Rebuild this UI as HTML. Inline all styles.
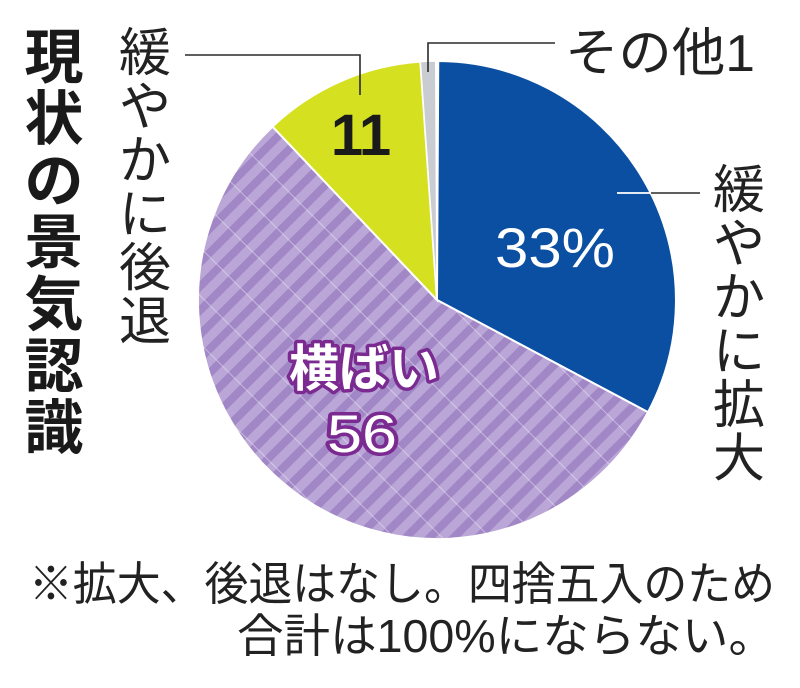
<!DOCTYPE html>
<html>
<head>
<meta charset="utf-8">
<style>
  html,body{margin:0;padding:0;background:#fff;}
  svg{display:block;}
  .jp{font-family:"Liberation Sans","Noto Sans CJK JP",sans-serif;}
</style>
</head>
<body>
<svg width="800" height="688" viewBox="0 0 800 688" xmlns="http://www.w3.org/2000/svg">
  <defs>
    <pattern id="st" patternUnits="userSpaceOnUse" width="17" height="17" patternTransform="rotate(45)">
      <rect width="17" height="17" fill="#baa6d7"/>
      <rect width="8" height="17" fill="#a287c6"/>
    </pattern>
    <pattern id="gr" patternUnits="userSpaceOnUse" width="34" height="34" patternTransform="rotate(-45)">
      <rect x="0" y="0" width="1" height="34" fill="#ffffff" fill-opacity="0.4"/>
    </pattern>
  </defs>
  <rect width="800" height="688" fill="#fff"/>

  <!-- Pie -->
  <path d="M437,300 L438.25,61 A239,239 0 0 1 648,412.2 Z" fill="#0b4fa2" stroke="#fff" stroke-width="2"/>
  <path d="M437,300 L648,412.2 A239,239 0 1 1 272.5,126.6 Z" fill="url(#st)" stroke="#fff" stroke-width="2"/>
  <path d="M437,300 L648,412.2 A239,239 0 1 1 272.5,126.6 Z" fill="url(#gr)"/>
  <path d="M437,300 L272.5,126.6 A239,239 0 0 1 420.3,61.6 Z" fill="#d5e020" stroke="#fff" stroke-width="2"/>
  <path d="M437,300 L420.3,61.6 A239,239 0 0 1 435.75,61 Z" fill="#c9ccd0" stroke="#fff" stroke-width="1.5"/>

  <!-- Leader lines -->
  <polyline points="185,55 360,55 360,95" fill="none" stroke="#2a2a2a" stroke-width="1.6"/>
  <polyline points="555,43 428,43 428,72" fill="none" stroke="#2a2a2a" stroke-width="1.6"/>
  <line x1="617" y1="193" x2="651" y2="193" stroke="#fff" stroke-width="1.8"/>
  <line x1="651" y1="193" x2="700" y2="193" stroke="#2a2a2a" stroke-width="1.6"/>

  <!-- Title (vertical, bold) -->
  <g class="jp" font-size="59" font-weight="700" fill="#1a1a1a" text-anchor="middle">
    <text x="54" y="77.8">現</text>
    <text x="54" y="139.6">状</text>
    <text x="54" y="201.4">の</text>
    <text x="54" y="263.2">景</text>
    <text x="54" y="325">気</text>
    <text x="54" y="386.8">認</text>
    <text x="54" y="448.6">識</text>
  </g>

  <!-- Left label -->
  <g class="jp" font-size="52" fill="#222" text-anchor="middle">
    <text x="145" y="71.2">緩</text>
    <text x="145" y="124.9">や</text>
    <text x="145" y="178.6">か</text>
    <text x="145" y="232.3">に</text>
    <text x="145" y="286">後</text>
    <text x="145" y="339.7">退</text>
  </g>

  <!-- Right label -->
  <g class="jp" font-size="52" fill="#222" text-anchor="middle">
    <text x="739" y="208.2">緩</text>
    <text x="739" y="261.9">や</text>
    <text x="739" y="315.6">か</text>
    <text x="739" y="369.3">に</text>
    <text x="739" y="423">拡</text>
    <text x="739" y="476.7">大</text>
  </g>

  <!-- Top label -->
  <text class="jp" x="565" y="71" font-size="52" fill="#222" textLength="190" lengthAdjust="spacingAndGlyphs">その他1</text>

  <!-- Values -->
  <text x="495" y="267" font-family="Liberation Sans, sans-serif" font-size="56" fill="#fff" textLength="120" lengthAdjust="spacingAndGlyphs">33%</text>
  <g font-family="Liberation Sans, sans-serif" font-size="58" font-weight="700" fill="#1a1a1a" text-anchor="middle">
    <text x="347" y="155">1</text>
    <text x="375" y="155">1</text>
  </g>
  <text class="jp" x="364" y="386" font-size="50" font-weight="700" fill="#fff" stroke="#7a2a90" stroke-width="7" stroke-linejoin="round" paint-order="stroke" text-anchor="middle">横ばい</text>
  <text x="362" y="452" font-family="Liberation Sans, sans-serif" font-size="53" fill="#fff" stroke="#7a2a90" stroke-width="7" stroke-linejoin="round" paint-order="stroke" text-anchor="middle" textLength="70" lengthAdjust="spacingAndGlyphs">56</text>

  <!-- Footnote -->
  <text class="jp" x="29" y="600" font-size="46" fill="#222" textLength="746" lengthAdjust="spacingAndGlyphs">※拡大、後退はなし。四捨五入のため</text>
  <text class="jp" x="237" y="652" font-size="46" fill="#222" textLength="538" lengthAdjust="spacingAndGlyphs">合計は100%にならない。</text>
</svg>
</body>
</html>
